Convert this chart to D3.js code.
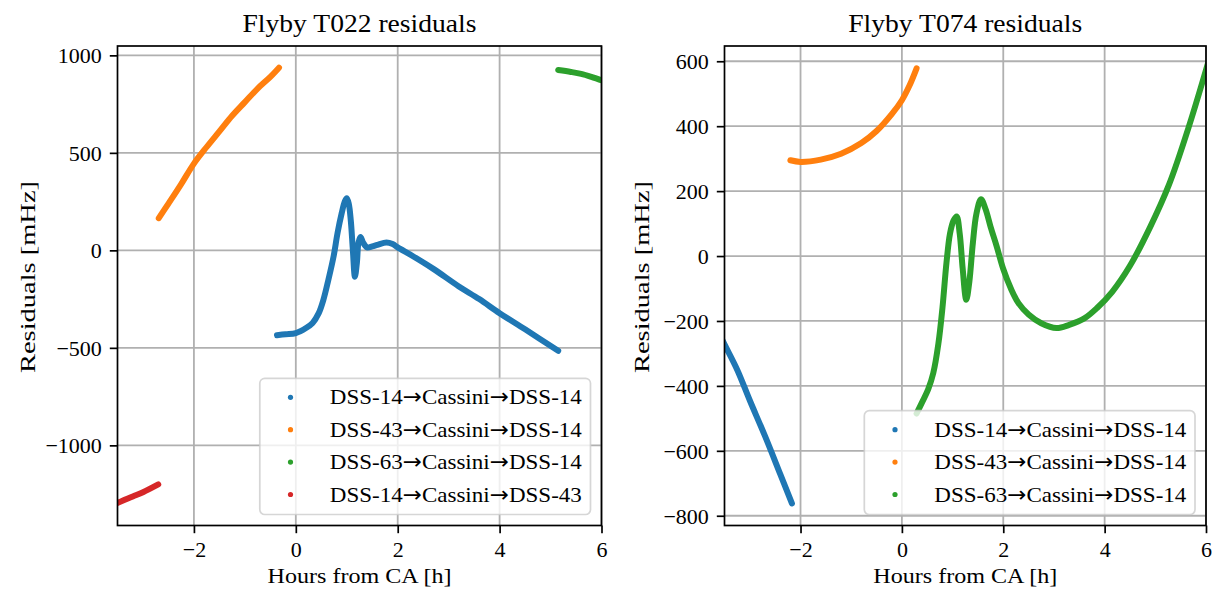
<!DOCTYPE html>
<html>
<head>
<meta charset="utf-8">
<script src="https://cdn.jsdelivr.net/npm/d3@7"></script>
<style>
    body { margin: 0; background: #fff; }
    svg text { font-family: 'Liberation Serif', 'Times New Roman', serif; fill: #000; }
    svg tspan.arrow { font-family: 'DejaVu Sans', sans-serif; }
</style>
</head>
<body>
<div id="chart"></div>
<script>
// tick values and series names
const hourTicks = [-2, 0, 2, 4, 6];
const t022Ticks = [-1000, -500, 0, 500, 1000];
const t074Ticks = [-800, -600, -400, -200, 0, 200, 400, 600];
const seriesNames = ['DSS-14→Cassini→DSS-14', 'DSS-43→Cassini→DSS-14', 'DSS-63→Cassini→DSS-14', 'DSS-14→Cassini→DSS-43'];
const seriesColors = ['#1f77b4', '#ff7f0e', '#2ca02c', '#d62728'];

// T022 residuals, [hours from CA, mHz]
const t022Blue = [[-0.37, -435], [-0.2, -430], [0, -424], [0.2, -398], [0.33, -372], [0.45, -322], [0.54, -255],
    [0.64, -150], [0.74, -33], [0.82, 90], [0.9, 190], [0.96, 250], [1.0, 267], [1.04, 238], [1.08, 150],
    [1.12, 0], [1.16, -135], [1.2, -60], [1.23, 40], [1.27, 68], [1.32, 40], [1.4, 15], [1.5, 20], [1.6, 28],
    [1.78, 40], [1.9, 32], [2.0, 15], [2.3, -30], [2.7, -95], [3.2, -185], [3.6, -250], [4.0, -322],
    [4.5, -405], [5.15, -515]];
const t022Orange = [[-2.69, 165], [-2.5, 240], [-2.25, 340], [-2.0, 445], [-1.75, 530], [-1.5, 610], [-1.25, 690],
    [-1.0, 760], [-0.75, 830], [-0.5, 890], [-0.33, 937]];
const t022Green = [[5.15, 925], [5.4, 915], [5.6, 905], [5.8, 890], [6.05, 868]];
const t022Red = [[-3.6, -1305], [-3.5, -1295], [-3.2, -1262], [-3.0, -1240], [-2.7, -1200]];

// T074 residuals, [hours from CA, mHz]
const t074Blue = [[-3.6, -240], [-3.5, -272], [-3.25, -350], [-3.0, -445], [-2.7, -555], [-2.4, -672], [-2.17, -762]];
const t074Orange = [[-2.2, 295], [-2.0, 290], [-1.6, 297], [-1.2, 315], [-0.8, 348], [-0.5, 385], [-0.2, 437],
    [0.0, 480], [0.15, 525], [0.29, 578]];
const t074Green = [[0.29, -485], [0.4, -450], [0.52, -410], [0.62, -360], [0.72, -270], [0.8, -160], [0.88, -20],
    [0.95, 70], [1.02, 110], [1.08, 122], [1.14, 70], [1.2, -40], [1.27, -135], [1.33, -80], [1.4, 40],
    [1.47, 130], [1.56, 175], [1.65, 145], [1.75, 90], [1.87, 30], [2.0, -40], [2.15, -100], [2.3, -145],
    [2.5, -180], [2.75, -207], [3.05, -222], [3.3, -212], [3.6, -192], [3.85, -160], [4.15, -110],
    [4.5, -30], [4.9, 90], [5.27, 220], [5.66, 398], [6.05, 600]];

const wSvg = 1217, hSvg = 593;
const yTop = 46, yBottom = 525.5;
const grey = '#b0b0b0';

const svg = d3.select('#chart')
    .append('svg')
    .attr('width', wSvg)
    .attr('height', hSvg);

const panels = [
    {
        id: 'T022', title: 'Flyby T022 residuals', left: 117.5, right: 601.5,
        yDomain: [-1411, 1048], yTicks: t022Ticks, yLabelX: 34.5,
        series: [t022Blue, t022Orange, t022Green, t022Red]
    },
    {
        id: 'T074', title: 'Flyby T074 residuals', left: 724.5, right: 1206,
        yDomain: [-830, 647], yTicks: t074Ticks, yLabelX: 649,
        series: [t074Blue, t074Orange, t074Green]
    }
];

function fit(sel, w) {
    sel.attr('textLength', w).attr('lengthAdjust', 'spacingAndGlyphs');
}

panels.forEach(p => {
    const xScale = d3.scaleLinear().domain([-3.5, 6]).range([p.left, p.right]);
    const yScale = d3.scaleLinear().domain(p.yDomain).range([yBottom, yTop]);
    const midX = (p.left + p.right) / 2;

    const g = svg.append('g').classed('panel', true);

    g.append('clipPath').attr('id', 'clip-' + p.id)
        .append('rect')
        .attr('x', p.left).attr('y', yTop)
        .attr('width', p.right - p.left).attr('height', yBottom - yTop);

    // grid
    const gGrid = g.append('g').classed('grid', true);
    gGrid.selectAll('.gx').data(hourTicks).enter().append('line')
        .attr('x1', d => xScale(d)).attr('x2', d => xScale(d))
        .attr('y1', yTop).attr('y2', yBottom)
        .attr('stroke', grey).attr('stroke-width', 1.8);
    gGrid.selectAll('.gy').data(p.yTicks).enter().append('line')
        .attr('x1', p.left).attr('x2', p.right)
        .attr('y1', d => yScale(d)).attr('y2', d => yScale(d))
        .attr('stroke', grey).attr('stroke-width', 1.8);

    // data bands (dense scatter drawn as a thick trace)
    const lineMaker = d3.line()
        .x(d => xScale(d[0]))
        .y(d => yScale(d[1]))
        .curve(d3.curveCatmullRom);

    g.append('g')
        .attr('clip-path', `url(#clip-${p.id})`)
        .selectAll('path')
        .data(p.series)
        .enter()
        .append('path')
        .attr('d', d => lineMaker(d))
        .attr('fill', 'none')
        .attr('stroke', (d, i) => seriesColors[i])
        .attr('stroke-width', 6)
        .attr('stroke-linecap', 'round')
        .attr('stroke-linejoin', 'round');

    // axes
    const xAx = g.append('g')
        .attr('transform', `translate(0, ${yBottom})`)
        .call(d3.axisBottom(xScale).tickValues(hourTicks).tickSize(7.7).tickPadding(4).tickFormat(d3.format('d')));
    const yAx = g.append('g')
        .attr('transform', `translate(${p.left}, 0)`)
        .call(d3.axisLeft(yScale).tickValues(p.yTicks).tickSize(7.7).tickPadding(8).tickFormat(d3.format('d')));
    [xAx, yAx].forEach(ax => {
        ax.attr('font-family', null);
        ax.select('.domain').remove();
        ax.selectAll('.tick line').attr('stroke', '#000').attr('stroke-width', 1.7);
        ax.selectAll('.tick text').style('font-size', '22px').attr('fill', '#000');
    });
    xAx.selectAll('.tick text').attr('dy', '0.9em');
    yAx.selectAll('.tick text').attr('dy', '0.34em');

    // frame
    g.append('rect')
        .attr('x', p.left).attr('y', yTop)
        .attr('width', p.right - p.left).attr('height', yBottom - yTop)
        .attr('fill', 'none').attr('stroke', '#000').attr('stroke-width', 1.7);

    // titles and labels
    g.append('text')
        .attr('x', midX).attr('y', 32)
        .attr('text-anchor', 'middle')
        .style('font-size', '25px')
        .text(p.title)
        .call(fit, 234);
    g.append('text')
        .attr('x', midX).attr('y', 583)
        .attr('text-anchor', 'middle')
        .style('font-size', '22px')
        .text('Hours from CA [h]')
        .call(fit, 184);
    g.append('text')
        .attr('transform', `translate(${p.yLabelX}, 277) rotate(-90)`)
        .attr('text-anchor', 'middle')
        .style('font-size', '22px')
        .text('Residuals [mHz]')
        .call(fit, 192);

    // legend
    const n = p.series.length;
    const rowGap = 32.4;
    const lw = 330.7, lh = 19 + (n - 1) * rowGap + 20;
    const lx = p.right - 11 - lw, ly = yBottom - 11 - lh;
    const gLegend = g.append('g').classed('legend', true);
    gLegend.append('rect')
        .attr('x', lx).attr('y', ly)
        .attr('width', lw).attr('height', lh)
        .attr('rx', 5)
        .attr('fill', 'rgba(255,255,255,0.8)')
        .attr('stroke', 'rgba(204,204,204,0.8)')
        .attr('stroke-width', 1.7);
    const rows = gLegend.selectAll('.row')
        .data(seriesNames.slice(0, n))
        .enter()
        .append('g')
        .attr('transform', (d, i) => `translate(${lx}, ${ly + 19 + i * rowGap})`);
    rows.append('circle')
        .attr('cx', 30.7).attr('cy', 0).attr('r', 2.6)
        .attr('fill', (d, i) => seriesColors[i]);
    const labels = rows.append('text')
        .attr('x', 70).attr('y', 7)
        .style('font-size', '22px');
    labels.each(function (d) {
        const t = d3.select(this);
        d.split('→').forEach((part, k) => {
            if (k > 0) t.append('tspan').classed('arrow', true).text('→');
            t.append('tspan').text(part);
        });
    });
    labels.call(fit, 252);
});
</script>
</body>
</html>
